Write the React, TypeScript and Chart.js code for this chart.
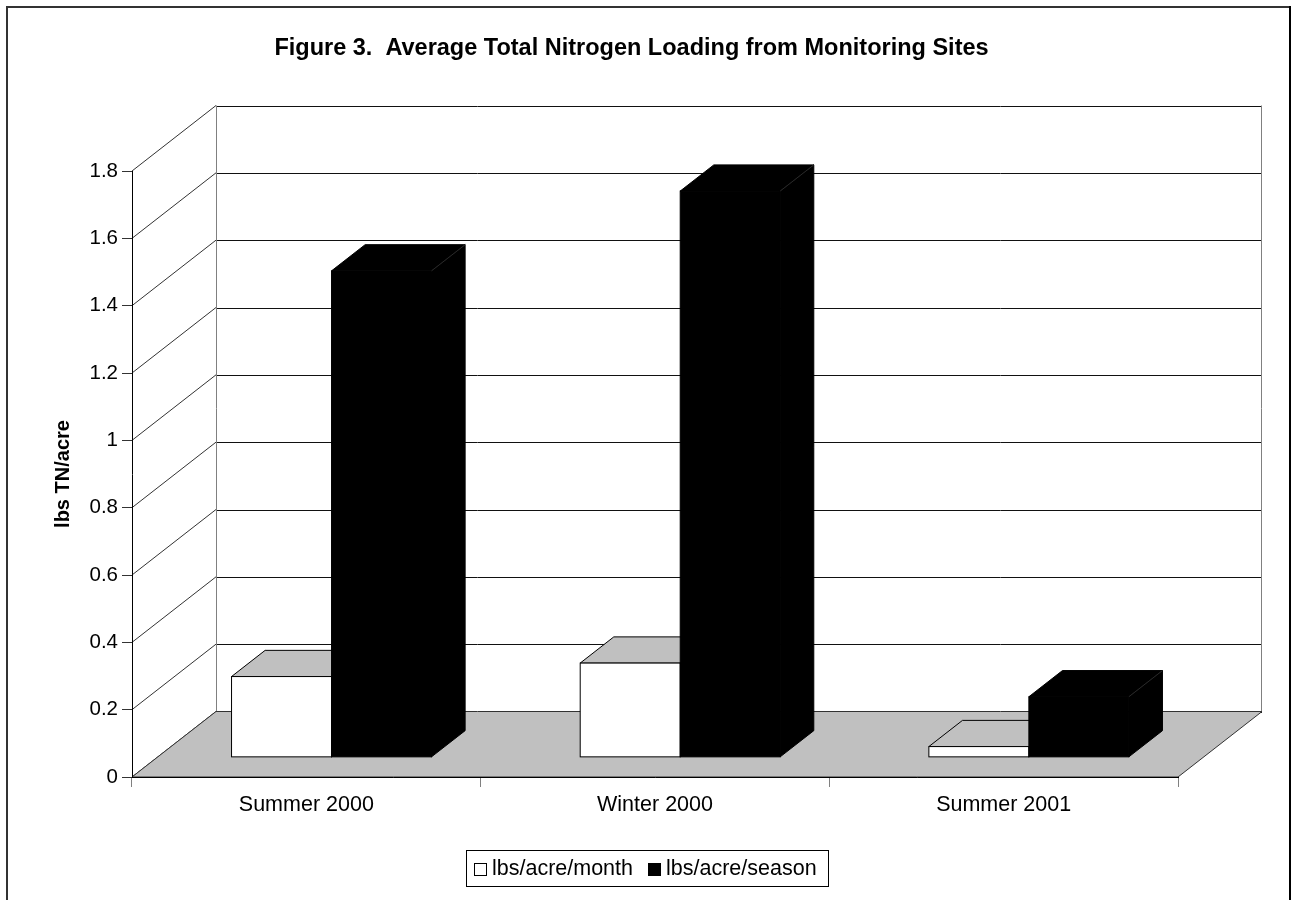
import React, { useEffect, useRef } from 'react';
import { Chart, registerables } from 'chart.js';

Chart.register(...registerables);

const categories = ['Summer 2000', 'Winter 2000', 'Summer 2001'];
const seriesNames = ['lbs/acre/month', 'lbs/acre/season'];
const monthValues = [0.24, 0.28, 0.032];
const seasonValues = [1.445, 1.682, 0.18];
const yTickLabels = ['0', '0.2', '0.4', '0.6', '0.8', '1', '1.2', '1.4', '1.6', '1.8'];
const titleText = 'Figure 3.  Average Total Nitrogen Loading from Monitoring Sites';
const yAxisTitle = 'lbs TN/acre';

const FONT = "'Liberation Sans', Arial, sans-serif";
const DEPTH_X = 84;
const DEPTH_Y = -65.5;
const BAR_FRONT = 0.3;
const BAR_BACK = 0.7;

const scenePlugin = {
  id: 'scene3d',
  beforeDraw(chart: any) {
    const ctx = chart.ctx;
    const { left, right, top, bottom } = chart.chartArea;
    const yScale = chart.scales.y;
    ctx.save();
    ctx.fillStyle = '#fff';
    ctx.fillRect(0, 0, chart.width, chart.height);

    // frame
    ctx.strokeStyle = '#333';
    ctx.lineWidth = 2;
    ctx.beginPath();
    ctx.moveTo(7, chart.height + 2);
    ctx.lineTo(7, 7);
    ctx.lineTo(1290, 7);
    ctx.stroke();
    ctx.strokeStyle = '#000';
    ctx.beginPath();
    ctx.moveTo(1290, 6);
    ctx.lineTo(1290, chart.height + 2);
    ctx.stroke();

    // title
    ctx.fillStyle = '#000';
    ctx.font = `bold 23.5px ${FONT}`;
    ctx.textAlign = 'center';
    ctx.textBaseline = 'alphabetic';
    ctx.fillText(titleText, 631.5, 55);

    // y axis title
    ctx.save();
    ctx.translate(63, (top + bottom) / 2);
    ctx.rotate(-Math.PI / 2);
    ctx.font = `bold 20px ${FONT}`;
    ctx.textBaseline = 'middle';
    ctx.fillText(yAxisTitle, 0, 0);
    ctx.restore();

    const dx = DEPTH_X, dy = DEPTH_Y;
    // back wall
    ctx.fillStyle = '#fff';
    ctx.fillRect(left + dx, top + dy, right - left, bottom - top);
    ctx.lineWidth = 1;
    const ticks = yScale.ticks;
    for (let i = 0; i < ticks.length; i++) {
      const yp = yScale.getPixelForValue(ticks[i].value);
      ctx.strokeStyle = '#333';
      ctx.beginPath();
      ctx.moveTo(left, yp);
      ctx.lineTo(left + dx, yp + dy);
      ctx.stroke();
      ctx.strokeStyle = '#111';
      ctx.beginPath();
      ctx.moveTo(left + dx, Math.round(yp + dy) + 0.5);
      ctx.lineTo(right + dx, Math.round(yp + dy) + 0.5);
      ctx.stroke();
    }
    // wall vertical edges
    ctx.strokeStyle = '#808080';
    ctx.beginPath();
    ctx.moveTo(Math.round(left + dx) + 0.5, top + dy);
    ctx.lineTo(Math.round(left + dx) + 0.5, bottom + dy);
    ctx.moveTo(Math.round(right + dx) - 0.5, top + dy);
    ctx.lineTo(Math.round(right + dx) - 0.5, bottom + dy);
    ctx.stroke();

    // floor
    ctx.fillStyle = '#c0c0c0';
    ctx.strokeStyle = '#333';
    ctx.beginPath();
    ctx.moveTo(left, bottom);
    ctx.lineTo(left + dx, bottom + dy);
    ctx.lineTo(right + dx, bottom + dy);
    ctx.lineTo(right, bottom);
    ctx.closePath();
    ctx.fill();
    ctx.stroke();

    // legend
    ctx.strokeStyle = '#000';
    ctx.lineWidth = 1;
    ctx.strokeRect(466.5, 850.5, 362, 36);
    ctx.fillStyle = '#fff';
    ctx.fillRect(474, 863, 13, 13);
    ctx.strokeRect(474.5, 863.5, 12, 12);
    ctx.fillStyle = '#000';
    ctx.fillRect(648, 863, 13, 13);
    ctx.font = `21.5px ${FONT}`;
    ctx.textAlign = 'left';
    ctx.textBaseline = 'middle';
    ctx.fillText(seriesNames[0], 492, 869);
    ctx.fillText(seriesNames[1], 666, 869);
    ctx.restore();
  },
  afterDatasetsDraw(chart: any) {
    const ctx = chart.ctx;
    const dx = DEPTH_X, dy = DEPTH_Y;
    const fx = dx * BAR_FRONT, fy = dy * BAR_FRONT;
    const bx = dx * BAR_BACK, by = dy * BAR_BACK;
    ctx.save();
    ctx.lineJoin = 'miter';
    for (let i = 0; i < categories.length; i++) {
      for (let d = 0; d < chart.data.datasets.length; d++) {
        const el = chart.getDatasetMeta(d).data[i];
        const p = el.getProps(['x', 'y', 'base', 'width'], true);
        const x0 = p.x - p.width / 2;
        const x1 = p.x + p.width / 2;
        const yt = p.y;
        const yb = p.base;
        const dark = d === 1;
        ctx.lineWidth = 1;
        ctx.strokeStyle = '#000';
        // side
        ctx.beginPath();
        ctx.moveTo(x1 + fx, yt + fy);
        ctx.lineTo(x1 + bx, yt + by);
        ctx.lineTo(x1 + bx, yb + by);
        ctx.lineTo(x1 + fx, yb + fy);
        ctx.closePath();
        ctx.fillStyle = dark ? '#000' : '#808080';
        ctx.fill();
        ctx.stroke();
        // top
        ctx.beginPath();
        ctx.moveTo(x0 + fx, yt + fy);
        ctx.lineTo(x0 + bx, yt + by);
        ctx.lineTo(x1 + bx, yt + by);
        ctx.lineTo(x1 + fx, yt + fy);
        ctx.closePath();
        ctx.fillStyle = dark ? '#000' : '#c0c0c0';
        ctx.fill();
        ctx.stroke();
        // front
        ctx.fillStyle = dark ? '#000' : '#fff';
        ctx.fillRect(x0 + fx, yt + fy, x1 - x0, yb - yt);
        ctx.strokeRect(x0 + fx, yt + fy, x1 - x0, yb - yt);
        if (dark) {
          // faint edge between top and side faces
          ctx.strokeStyle = '#2a2a2a';
          ctx.beginPath();
          ctx.moveTo(x1 + fx, yt + fy);
          ctx.lineTo(x1 + bx, yt + by);
          ctx.stroke();
        }
      }
    }
    ctx.restore();
  },
};

export default function App() {
  const ref = useRef<HTMLCanvasElement>(null);
  useEffect(() => {
    document.body.style.margin = '0';
    const canvas = ref.current;
    if (!canvas) return;
    const chart = new Chart(canvas, {
      type: 'bar',
      data: {
        labels: categories,
        datasets: [
          {
            label: seriesNames[0],
            data: monthValues,
            backgroundColor: 'rgba(0,0,0,0)',
            borderWidth: 0,
            categoryPercentage: 0.5736,
            barPercentage: 1,
          },
          {
            label: seriesNames[1],
            data: seasonValues,
            backgroundColor: 'rgba(0,0,0,0)',
            borderWidth: 0,
            categoryPercentage: 0.5736,
            barPercentage: 1,
          },
        ],
      },
      options: {
        responsive: false,
        animation: false,
        devicePixelRatio: 1,
        layout: { padding: { top: 171, right: 114, left: 0, bottom: 0 } },
        plugins: {
          legend: { display: false },
          title: { display: false },
          tooltip: { enabled: false },
        },
        scales: {
          x: {
            type: 'category',
            offset: true,
            grid: {
              offset: true,
              drawOnChartArea: false,
              drawTicks: true,
              tickLength: 10,
              color: '#808080',
            },
            border: { display: true, color: '#000', width: 1 },
            ticks: {
              color: '#000',
              padding: 5,
              font: { family: FONT, size: 21.5 },
              maxRotation: 0,
            },
            afterFit(scale: any) {
              scale.height = 123;
            },
          },
          y: {
            type: 'linear',
            min: 0,
            max: 1.8,
            ticks: {
              stepSize: 0.2,
              color: '#000',
              padding: 4,
              font: { family: FONT, size: 20.5 },
              callback: (_v: any, i: number) => yTickLabels[i],
            },
            grid: {
              drawOnChartArea: false,
              drawTicks: true,
              tickLength: 10,
              color: '#333',
            },
            border: { display: true, color: '#000', width: 1 },
            afterFit(scale: any) {
              scale.width = 132;
            },
          },
        },
      },
      plugins: [scenePlugin],
    });
    return () => chart.destroy();
  }, []);
  return <canvas ref={ref} width={1292} height={900} style={{ display: 'block' }} />;
}
